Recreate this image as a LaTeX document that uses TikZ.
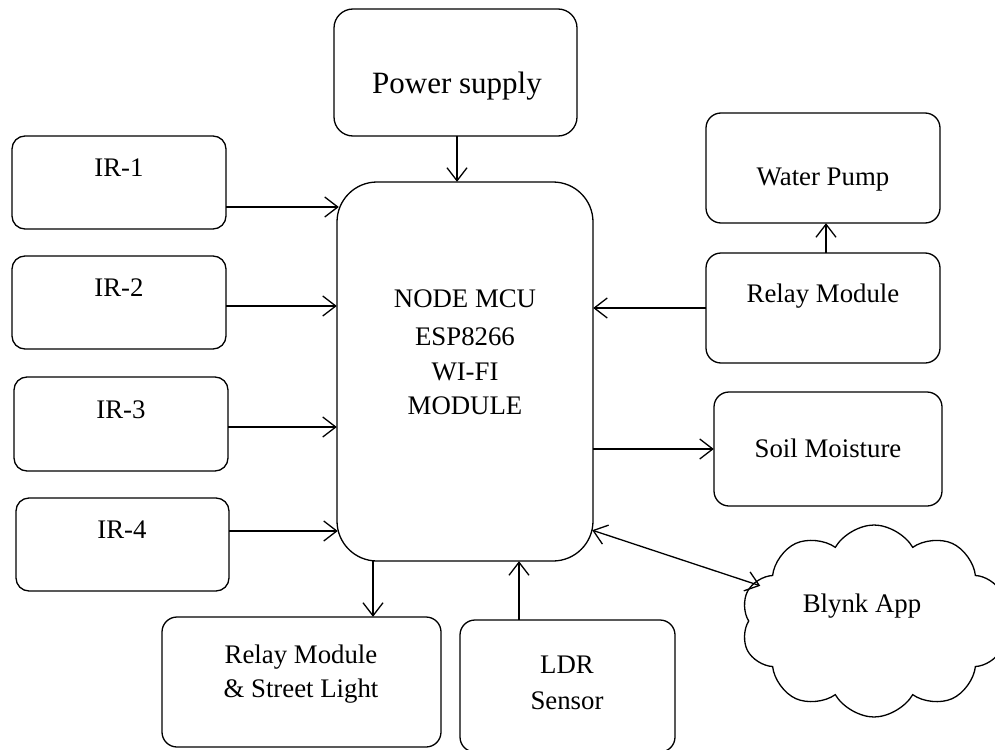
\documentclass[tikz,border=0pt]{standalone}
\usepackage{fontspec}
\setmainfont{Liberation Serif}
\usetikzlibrary{arrows.meta,shapes.symbols}
\begin{document}
\begin{tikzpicture}[x=1pt,y=-1pt,
  box/.style={draw, line width=1.3pt, rounded corners=13pt},
  txt/.style={anchor=base, inner sep=0pt, font=\fontsize{26.8pt}{36pt}\selectfont},
  arr/.style={line width=1.3pt, -{Straight Barb[length=13pt,width=20pt,line width=1.3pt]}},
  darr/.style={line width=1.3pt, {Straight Barb[length=13pt,width=20pt,line width=1.3pt]}-{Straight Barb[length=13pt,width=20pt,line width=1.3pt]}}]
\useasboundingbox (0,0) rectangle (995,749);
\clip (0,0) rectangle (995,749);
% boxes
\draw[box, rounded corners=19pt] (334,9) rectangle (577,136);
\path (334,9) rectangle (577,136) node[pos=0.5, inner sep=0pt, minimum width=243pt, minimum height=127pt] (power) {};
\draw[box, rounded corners=40pt] (337,182) rectangle (593,561);
\path (337,182) rectangle (593,561) node[pos=0.5, inner sep=0pt, minimum width=256pt, minimum height=379pt] (mcu) {};
\draw[box] (12,136) rectangle (226,229);
\path (12,136) rectangle (226,229) node[pos=0.5, inner sep=0pt, minimum width=214pt, minimum height=93pt] (ir1) {};
\draw[box] (12,256) rectangle (226,349);
\path (12,256) rectangle (226,349) node[pos=0.5, inner sep=0pt, minimum width=214pt, minimum height=93pt] (ir2) {};
\draw[box] (14,377) rectangle (228,471);
\path (14,377) rectangle (228,471) node[pos=0.5, inner sep=0pt, minimum width=214pt, minimum height=94pt] (ir3) {};
\draw[box] (16,498) rectangle (229,591);
\path (16,498) rectangle (229,591) node[pos=0.5, inner sep=0pt, minimum width=213pt, minimum height=93pt] (ir4) {};
\draw[box, rounded corners=15pt] (706,113) rectangle (940,223);
\path (706,113) rectangle (940,223) node[pos=0.5, inner sep=0pt, minimum width=234pt, minimum height=110pt] (pump) {};
\draw[box, rounded corners=15pt] (706,253) rectangle (940,363);
\path (706,253) rectangle (940,363) node[pos=0.5, inner sep=0pt, minimum width=234pt, minimum height=110pt] (relay) {};
\draw[box, rounded corners=15pt] (714,392) rectangle (942,506);
\path (714,392) rectangle (942,506) node[pos=0.5, inner sep=0pt, minimum width=228pt, minimum height=114pt] (soil) {};
\draw[box, rounded corners=15pt] (162,617) rectangle (441,747);
\path (162,617) rectangle (441,747) node[pos=0.5, inner sep=0pt, minimum width=279pt, minimum height=130pt] (relsl) {};
\draw[box, rounded corners=15pt] (460,620) rectangle (675,752);
\path (460,620) rectangle (675,752) node[pos=0.5, inner sep=0pt, minimum width=215pt, minimum height=132pt] (ldr) {};
\node[draw, line width=1.3pt, cloud, cloud puffs=10, cloud puff arc=120, minimum width=266pt, minimum height=192pt, inner sep=0pt] (blynk) at (874,621) {};
% texts
\node[txt, font=\fontsize{31pt}{36pt}\selectfont] (powert) at (457,94) {Power supply};
\node[txt] (mcut1) at (465,307) {NODE MCU};
\node[txt] (mcut2) at (465,345) {ESP8266};
\node[txt] (mcut3) at (465,380) {WI-FI};
\node[txt] (mcut4) at (465,414) {MODULE};
\node[txt] (ir1t) at (119,176) {IR-1};
\node[txt] (ir2t) at (119,296) {IR-2};
\node[txt] (ir3t) at (121,418) {IR-3};
\node[txt] (ir4t) at (122,538) {IR-4};
\node[txt] (pumpt) at (823,185) {Water Pump};
\node[txt] (relayt) at (823,302) {Relay Module};
\node[txt] (soilt) at (828,457) {Soil Moisture};
\node[txt] (blynkt) at (862,612) {Blynk App};
\node[txt] (relslt1) at (301,663) {Relay Module};
\node[txt] (relslt2) at (301,697) {\& Street Light};
\node[txt] (ldrt1) at (567,673) {LDR};
\node[txt] (ldrt2) at (567,709) {Sensor};
% connectors
\draw[arr] ([xshift=1.5pt]power.south) coordinate (p1) -- (p1 |- mcu.north);
\draw[arr] ([yshift=-24.5pt]ir1.east) coordinate (a1) -- ([xshift=2pt]a1 -| mcu.west);
\draw[arr] ([yshift=-3.5pt]ir2.east) coordinate (a2) -- (a2 -| mcu.west);
\draw[arr] ([yshift=-3pt]ir3.east) coordinate (a3) -- (a3 -| mcu.west);
\draw[arr] ([yshift=13.5pt]ir4.east) coordinate (a4) -- ([xshift=1pt]a4 -| mcu.west);
\draw[arr] (relay.west) -- (relay.west -| mcu.east);
\draw[arr] ([xshift=3pt]relay.north) coordinate (r1) -- (r1 |- pump.south);
\draw[arr] (soil.west -| mcu.east) -- (soil.west);
\draw[arr] ([xshift=-92pt]mcu.south) coordinate (s1) -- (s1 |- relsl.north);
\path ([xshift=54pt]mcu.south) coordinate (s2);
\draw[arr] (s2 |- ldr.north) -- (s2);
\draw[darr] ([yshift=31pt,xshift=-1pt]mcu.south east) -- ([xshift=8pt,yshift=-2pt]blynk.163);
\end{tikzpicture}
\end{document}
